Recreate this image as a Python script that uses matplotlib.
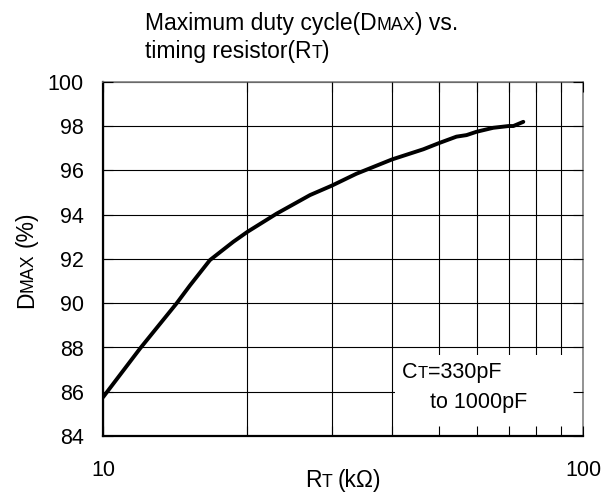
import matplotlib
matplotlib.use('Agg')
import matplotlib.pyplot as plt
from matplotlib.patches import Rectangle
from matplotlib.ticker import NullFormatter

plt.rcParams['font.family'] = ['Liberation Sans', 'DejaVu Sans']

W, H = 613, 494

# curve (RT in kOhm, DMAX in %)
RT_KOHM = [10, 11.94, 14.24, 15.17, 16.7, 18.69, 20, 23.0, 27.0, 30, 33.7,
           40, 46.5, 50, 54.5, 57.2, 60, 65, 70, 71.6, 75.1]
DMAX_PCT = [85.75, 87.95, 90.0, 90.8, 91.95, 92.78, 93.23, 94.05, 94.89, 95.32, 95.85,
            96.5, 96.96, 97.23, 97.53, 97.6, 97.75, 97.93, 98.01, 98.01, 98.2]

X_MAJOR = [10, 100]
X_MAJOR_LABELS = ['10', '100']
X_MINOR = [20, 30, 40, 50, 60, 70, 80, 90]
Y_TICKS = [84, 86, 88, 90, 92, 94, 96, 98, 100]

BIG = 16.5
SMALL = 12.8


def chain_h(ax, pieces, x, y):
    # pieces of text set one after the other on a common baseline (figure pixels)
    prev = None
    for s, size, gap in pieces:
        if prev is None:
            prev = ax.annotate(s, xy=(x / W, y / H), xycoords='figure fraction',
                               fontsize=size, ha='left', va='baseline')
        else:
            prev = ax.annotate(s, xy=(1.0, y / H), xycoords=(prev, 'figure fraction'),
                               xytext=(gap, 0), textcoords='offset points',
                               fontsize=size, ha='left', va='baseline')


def chain_v(ax, pieces, x, y):
    prev = None
    for s, size, gap in pieces:
        if prev is None:
            prev = ax.annotate(s, xy=(x / W, y / H), xycoords='figure fraction',
                               fontsize=size, rotation=90, rotation_mode='anchor',
                               ha='left', va='baseline')
        else:
            prev = ax.annotate(s, xy=(x / W, 1.0), xycoords=('figure fraction', prev),
                               xytext=(0, gap), textcoords='offset points',
                               fontsize=size, rotation=90, rotation_mode='anchor',
                               ha='left', va='baseline')


fig = plt.figure(figsize=(W / 100, H / 100), dpi=100)
pos = [103 / W, 58 / H, 480 / W, 354 / H]
ax = fig.add_axes(pos)
ax.set_xscale('log')
ax.set_xlim(10, 100)
ax.set_ylim(84, 100)
ax.set_xticks(X_MAJOR)
ax.set_xticklabels(X_MAJOR_LABELS)
ax.set_xticks(X_MINOR, minor=True)
ax.xaxis.set_minor_formatter(NullFormatter())
ax.set_yticks(Y_TICKS)
ax.set_axisbelow(True)
ax.grid(True, which='both', color='black', linewidth=0.8)
ax.tick_params(which='both', length=0, labelsize=15.5)
ax.tick_params(axis='x', pad=17)
ax.tick_params(axis='y', pad=14)

ax.plot(RT_KOHM, DMAX_PCT, color='black', linewidth=2.8, solid_capstyle='round', zorder=3)

# white note box that hides the grid in the lower right corner
ax.add_patch(Rectangle((40.6, 84), 100 - 40.6, 87.65 - 84, facecolor='white',
                       edgecolor='none', zorder=1))

for side in ['left', 'bottom']:
    ax.spines[side].set_linewidth(1.6)
    ax.spines[side].set_color('black')
for side in ['top', 'right']:
    ax.spines[side].set_linewidth(1.2)
    ax.spines[side].set_color('#808080')

# overlay axes only for the inward ticks, so they show on top of the box
ax2 = fig.add_axes(pos, sharex=ax, sharey=ax)
ax2.patch.set_visible(False)
for side in ax2.spines:
    ax2.spines[side].set_visible(False)
ax2.tick_params(which='both', direction='in', length=7, width=0.8,
                top=True, right=True, labelbottom=False, labelleft=False)

# title
chain_h(ax, [('Maximum duty cycle(D', BIG, 0), ('MAX', SMALL, 0), (') vs.', BIG, 0)], 145, H - 30)
chain_h(ax, [('timing resistor(R', BIG, 0), ('T', SMALL, 0), (')', BIG, 0)], 145, H - 58)

# note
chain_h(ax, [('C', 15.5, 0), ('T', 12, 0), ('=330pF', 15.5, 0)], 402, H - 378)
chain_h(ax, [('to 1000pF', 15.5, 0)], 430, H - 408)

# axis labels
chain_h(ax, [('R', 16.5, 0), ('T', 12.8, 0), ('(kΩ)', 16.5, 4)], 305, H - 487)
chain_v(ax, [('D', 16.5, 0), ('MAX', 12.8, 0), ('(%)', 16.5, 4)], 33, H - 308)

fig.savefig('out.png', dpi=100)
